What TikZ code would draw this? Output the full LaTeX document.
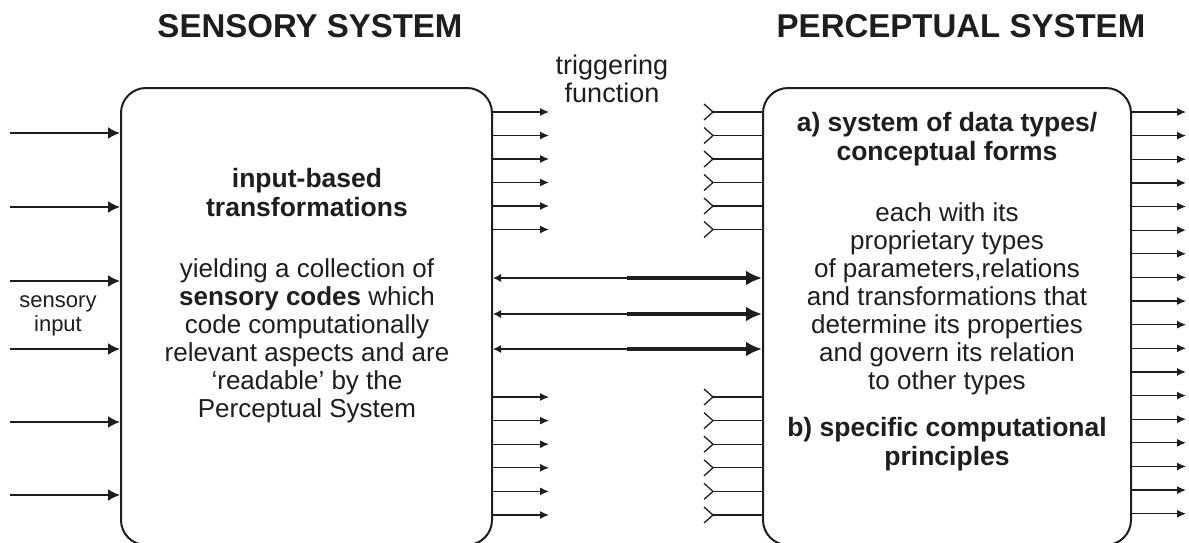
\documentclass[tikz,border=0pt]{standalone}
\usepackage{fontspec}
\setmainfont{Liberation Sans}
\usetikzlibrary{arrows.meta}
\definecolor{ink}{RGB}{30,30,30}
\begin{document}
\begin{tikzpicture}[x=1pt,y=-1pt,
  box/.style={draw=ink,line width=2pt,rounded corners=25pt,inner sep=0pt},
  outarrow/.style={draw=ink,line width=1.3pt,-{Latex[length=9pt,width=8pt]}},
  inarrow/.style={draw=ink,line width=2pt,-{Latex[length=12pt,width=12pt]}},
  tail/.style={draw=ink,line width=1.3pt},
  thinback/.style={draw=ink,line width=1.2pt,-{Latex[length=8pt,width=8pt]}},
  thickfwd/.style={draw=ink,line width=3.5pt,-{Latex[length=16pt,width=15pt]}},
  title/.style={text=ink,font=\fontsize{33}{38}\selectfont\bfseries},
  body/.style={text=ink,align=center,font=\fontsize{26}{28}\selectfont,inner sep=0pt},
  bbody/.style={body,font=\fontsize{26.5}{29}\selectfont\bfseries},
  small/.style={text=ink,align=center,font=\fontsize{22}{24}\selectfont,inner sep=0pt},
  trig/.style={text=ink,align=center,font=\fontsize{27}{28}\selectfont,inner sep=0pt}
]
\useasboundingbox (0,0) rectangle (1189,542);
\fill[white] (0,0) rectangle (1189,542);

% boxes
\node[box,minimum width=371pt,minimum height=457pt] (S) at (306.5,316.5) {};
\node[box,minimum width=368pt,minimum height=457pt] (P) at (947,316.5) {};

% titles
\node[title] (t1) at (310,26) {SENSORY SYSTEM};
\node[title] (t2) at (961,26) {PERCEPTUAL SYSTEM};
\node[trig] (trig) at (612,79) {triggering\\function};
\node[small] (sin) at (58,316) {sensory\\input};

% left box text
\node[bbody] (s1) at (307,193) {input-based\\transformations};
\node[body] (s2) at (307,340.5) {yielding a collection of\\{\bfseries sensory codes} which\\code computationally\\relevant aspects and are\\‘readable’ by the\\Perceptual System};

% right box text
\node[bbody] (p1) at (947,139) {a) system of data types/\\conceptual forms};
\node[body] (p2) at (947,298.5) {each with its\\proprietary types\\of parameters,relations\\and transformations that\\determine its properties\\and govern its relation\\to other types};
\node[bbody] (p3) at (947,444.5) {b) specific computational\\principles};

% sensory inputs
\foreach \yy in {133,207,281,349,422,495}{
  \coordinate (src\yy) at (10,\yy);
  \draw[inarrow] (src\yy) -- (S.west |- src\yy);
}

% outputs of sensory system and inputs to perceptual system
\foreach \i [evaluate=\i as \yy using 112+23.5*\i] in {0,...,5}{
  \coordinate (o\i) at (549,\yy);
  \draw[outarrow] (S.east |- o\i) -- (o\i);
  \coordinate (c\i) at (713,\yy);
  \draw[tail] ([shift={(-9,-8)}]c\i) -- (c\i) -- ([shift={(-9,8)}]c\i);
  \draw[tail] (c\i) -- (P.west |- c\i);
}
\foreach \i [evaluate=\i as \yy using 397+23.6*\i] in {0,...,5}{
  \coordinate (q\i) at (549,\yy);
  \draw[outarrow] (S.east |- q\i) -- (q\i);
  \coordinate (d\i) at (713,\yy);
  \draw[tail] ([shift={(-9,-8)}]d\i) -- (d\i) -- ([shift={(-9,8)}]d\i);
  \draw[tail] (d\i) -- (P.west |- d\i);
}

% middle double arrows
\foreach \yy in {278,314,349}{
  \coordinate (m\yy) at (627,\yy);
  \draw[thinback] (m\yy) -- (S.east |- m\yy);
  \draw[thickfwd] (m\yy) -- (P.west |- m\yy);
}

% perceptual outputs
\foreach \i [evaluate=\i as \yy using 112+23.63*\i] in {0,...,17}{
  \coordinate (r\i) at (1186,\yy);
  \draw[outarrow] (P.east |- r\i) -- (r\i);
}
\end{tikzpicture}
\end{document}
